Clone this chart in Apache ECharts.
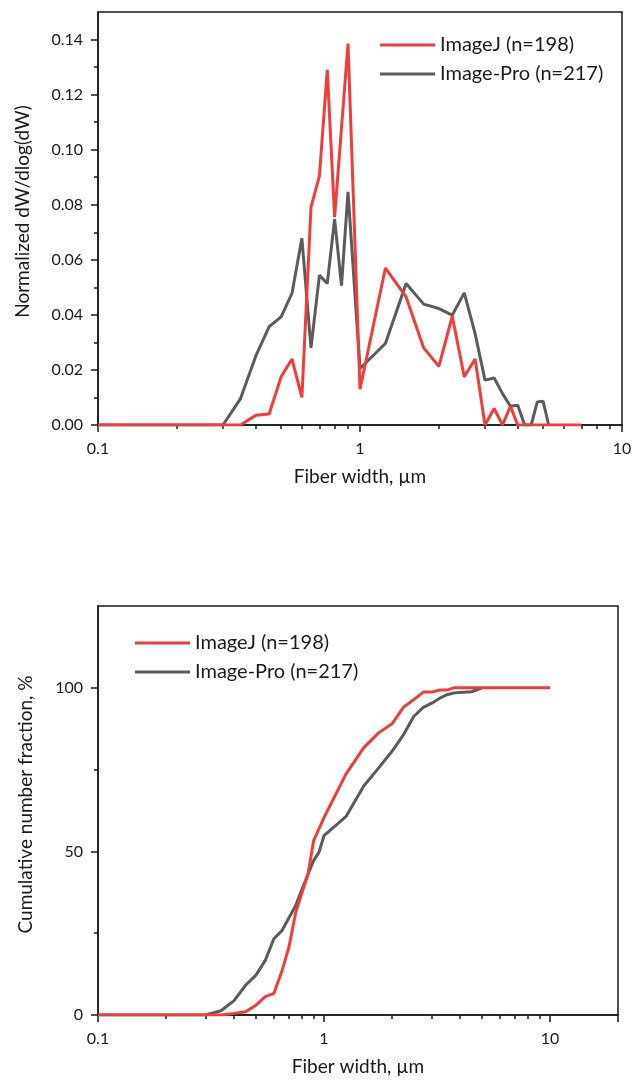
<!DOCTYPE html>
<html>
<head>
<meta charset="utf-8">
<title>Fiber width distribution</title>
<script src="https://cdn.jsdelivr.net/npm/echarts@6.0.0/dist/echarts.min.js"></script>
<style>
html, body { margin: 0; padding: 0; background: #fff; }
#charts { width: 636px; height: 1082px; }
</style>
</head>
<body>
<div id="charts"></div>
<script type="text/javascript">
// series names
var nameImageJ = 'ImageJ (n=198)';
var namePro = 'Image-Pro (n=217)';

// top chart: normalized dW/dlog(dW)
var topWidthRed = [0.1, 0.15, 0.2, 0.25, 0.3, 0.35, 0.4, 0.45, 0.5, 0.55, 0.6, 0.65, 0.7, 0.75, 0.8, 0.9,
    1.0, 1.25, 1.5, 1.75, 2.0, 2.25, 2.5, 2.75, 3.0, 3.25, 3.5, 3.75, 4.0, 4.5, 5, 5.5, 6, 6.5, 7];
var topRed = [0, 0, 0, 0, 0, 0, 0.0035, 0.004, 0.0175, 0.024, 0.010, 0.079, 0.0905, 0.129, 0.0755, 0.1385,
    0.013, 0.057, 0.0465, 0.028, 0.0213, 0.0395, 0.0175, 0.024, 0, 0.006, 0, 0.0068, 0, 0, 0, 0, 0, 0, 0];
var topWidthGrey = [0.1, 0.15, 0.2, 0.25, 0.3, 0.35, 0.4, 0.45, 0.5, 0.55, 0.6, 0.65, 0.7, 0.75, 0.8, 0.85, 0.9,
    1.0, 1.25, 1.5, 1.75, 2.0, 2.25, 2.5, 2.75, 3.0, 3.25, 3.5, 3.75, 4.0, 4.25, 4.5, 4.75, 5.0, 5.25];
var topGrey = [0, 0, 0, 0, 0, 0.0096, 0.025, 0.0357, 0.0393, 0.0478, 0.0678, 0.028, 0.0544, 0.0514, 0.0748, 0.0506, 0.0847,
    0.0205, 0.0296, 0.0514, 0.0439, 0.0423, 0.0399, 0.048, 0.0332, 0.0163, 0.0171, 0.0114, 0.0068, 0.0072, 0, 0, 0.0084, 0.0086, 0];

// bottom chart: cumulative number fraction, %
var cumWidthRed = [0.1, 0.15, 0.2, 0.25, 0.3, 0.35, 0.4, 0.45, 0.5, 0.55, 0.6, 0.65, 0.7, 0.75, 0.8, 0.85, 0.9,
    1.0, 1.25, 1.5, 1.75, 2.0, 2.25, 2.5, 2.75, 3.0, 3.25, 3.5, 3.75, 4, 5, 6, 7, 8, 9, 10];
var cumRed = [0, 0, 0, 0, 0, 0, 0.5, 1.0, 3.0, 5.6, 6.6, 13.2, 20.8, 31.4, 37.5, 43.1, 53.3,
    60.3, 73.6, 81.7, 86.3, 89.0, 94.1, 96.4, 98.7, 98.7, 99.3, 99.3, 100, 100, 100, 100, 100, 100, 100, 100];
var cumWidthGrey = [0.1, 0.15, 0.2, 0.25, 0.3, 0.35, 0.4, 0.45, 0.5, 0.55, 0.6, 0.65, 0.7, 0.75, 0.8, 0.85, 0.9, 0.95,
    1.0, 1.25, 1.5, 1.75, 2.0, 2.25, 2.5, 2.75, 3.0, 3.25, 3.5, 3.75, 4.0, 4.5, 5.0];
var cumGrey = [0, 0, 0, 0, 0, 1.3, 4.4, 9.1, 12.2, 16.7, 23.3, 25.7, 29.7, 33.5, 38.5, 43.1, 47.2, 49.7,
    54.8, 60.6, 70.0, 75.6, 80.6, 85.7, 91.3, 94.0, 95.3, 96.8, 97.9, 98.4, 98.6, 98.8, 100];

// ticks
var xMajorTop = [0.1, 1, 10];
var xMajorBottom = [0.1, 1, 10, 20];
var xLabels = [0.1, 1, 10];
var xMinor = [0.2, 0.3, 0.4, 0.5, 0.6, 0.7, 0.8, 0.9, 2, 3, 4, 5, 6, 7, 8, 9];
var yMajorTop = [0, 0.02, 0.04, 0.06, 0.08, 0.10, 0.12, 0.14];
var yMinorTop = [0.01, 0.03, 0.05, 0.07, 0.09, 0.11, 0.13];
var yMajorBottom = [0, 50, 100];
var yMinorBottom = [25, 75];

var FONT = 'Lato';
var INK = '#1a1a1a';
var RED = '#f03c3c';
var GREY = '#5b5b5b';

function pairs(xs, ys) {
    return xs.map(function (x, i) { return [x, ys[i]]; });
}

// one axis only carries the short ticks, the other the long ticks, labels and name
function minorAxis(type, pos, grid, min, max, ticks) {
    return {
        type: type, position: pos, gridIndex: grid, min: min, max: max,
        axisLine: { show: true, onZero: false, lineStyle: { color: INK, width: 1.5 } },
        axisTick: { show: true, length: 4, customValues: ticks, lineStyle: { color: INK, width: 1.5 } },
        axisLabel: { show: false },
        splitLine: { show: false }
    };
}
function majorAxis(type, pos, grid, min, max, ticks, labels, fmt, margin, name, gap, pad) {
    return {
        type: type, position: pos, gridIndex: grid, min: min, max: max,
        axisLine: { show: false, onZero: false },
        axisTick: { show: true, length: 7, customValues: ticks, lineStyle: { color: INK, width: 1.5 } },
        axisLabel: { customValues: labels, formatter: fmt, margin: margin, color: INK, fontFamily: FONT, fontSize: 16 },
        splitLine: { show: false },
        name: name, nameLocation: 'middle', nameGap: gap,
        nameTextStyle: { color: INK, fontFamily: FONT, fontSize: 19, padding: pad }
    };
}
function fmtX(v) { return v < 1 ? v.toFixed(1) : v.toFixed(0); }
function fmtTop(v) { return v.toFixed(2); }
function fmtBottom(v) { return v.toFixed(0); }

function line(name, data, color, xi, yi, z) {
    return {
        name: name, type: 'line', xAxisIndex: xi, yAxisIndex: yi, data: data,
        symbol: 'none', z: z,
        lineStyle: { color: color, width: 3 }, itemStyle: { color: color }
    };
}
function legend(left, top) {
    return {
        data: [nameImageJ, namePro], orient: 'vertical', left: left, top: top, padding: 0,
        icon: 'rect', itemWidth: 55, itemHeight: 3, itemGap: 9, selectedMode: false,
        textStyle: { color: INK, fontFamily: FONT, fontSize: 20, lineHeight: 20 }
    };
}

var myChart = echarts.init(document.getElementById('charts'));
var option = {
    animation: false,
    backgroundColor: '#fff',
    grid: [
        { left: 98, top: 12, width: 524, height: 413, outerBoundsMode: 'none', show: true, borderColor: INK, borderWidth: 1.5 },
        { left: 98, top: 606, width: 520, height: 409, outerBoundsMode: 'none', show: true, borderColor: INK, borderWidth: 1.5 }
    ],
    legend: [legend(380, 35), legend(135, 633)],
    xAxis: [
        minorAxis('log', 'bottom', 0, 0.1, 10, xMinor),
        majorAxis('log', 'bottom', 0, 0.1, 10, xMajorTop, xLabels, fmtX, 16, 'Fiber width, \u00b5m', 42, 0),
        minorAxis('log', 'bottom', 1, 0.1, 20, xMinor),
        majorAxis('log', 'bottom', 1, 0.1, 20, xMajorBottom, xLabels, fmtX, 16, 'Fiber width, \u00b5m', 42, 0)
    ],
    yAxis: [
        minorAxis('value', 'left', 0, 0, 0.15, yMinorTop),
        majorAxis('value', 'left', 0, 0, 0.15, yMajorTop, yMajorTop, fmtTop, 15, 'Normalized dW/dlog(dW)', 66, [0, 0, 0, 14]),
        minorAxis('value', 'left', 1, 0, 125, yMinorBottom),
        majorAxis('value', 'left', 1, 0, 125, yMajorBottom, yMajorBottom, fmtBottom, 15, 'Cumulative number fraction, %', 63, [0, 0, 0, 12])
    ],
    series: [
        line(namePro, pairs(topWidthGrey, topGrey), GREY, 0, 0, 2),
        line(nameImageJ, pairs(topWidthRed, topRed), RED, 0, 0, 3),
        line(namePro, pairs(cumWidthGrey, cumGrey), GREY, 2, 2, 2),
        line(nameImageJ, pairs(cumWidthRed, cumRed), RED, 2, 2, 3)
    ]
};
myChart.setOption(option);
</script>
</body>
</html>
